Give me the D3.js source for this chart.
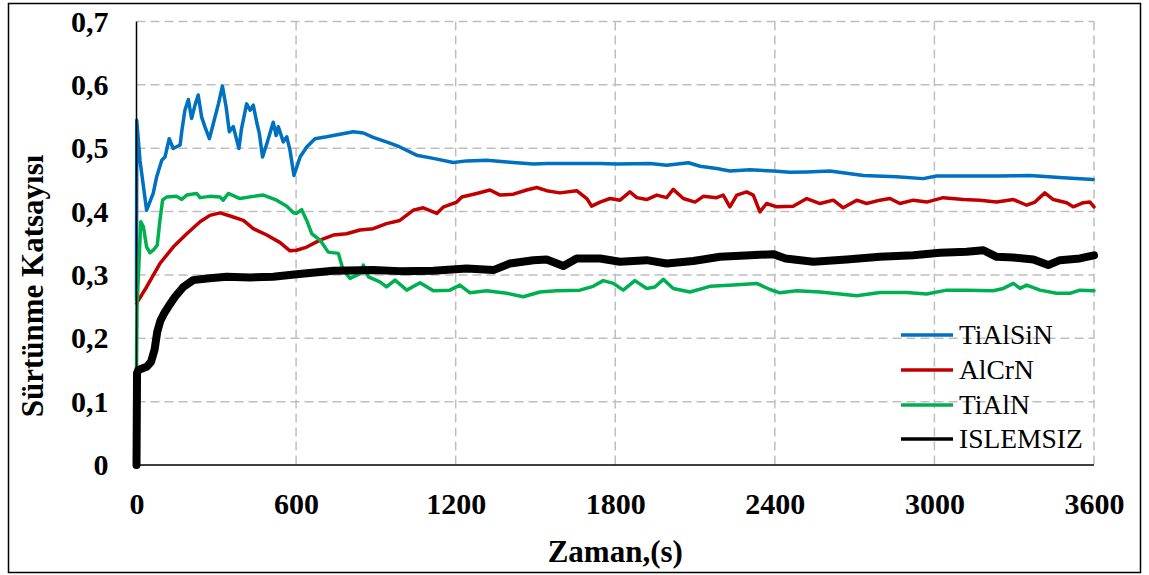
<!DOCTYPE html>
<html>
<head>
<meta charset="utf-8">
<script src="https://cdn.jsdelivr.net/npm/d3@7"></script>
<style>
  html, body { margin: 0; padding: 0; background: #fff; }
  svg { display: block; }
  svg text { font-family: "Liberation Serif", "Times New Roman", Times, serif; }
</style>
</head>
<body>
<svg id="chart" width="1149" height="575"></svg>
<script>
// Friction coefficient vs. time for coated and uncoated samples
const seriesNames = ["TiAlSiN", "AlCrN", "TiAlN", "ISLEMSIZ"];
const seriesColors = ["#0070c0", "#c00000", "#00b050", "#000000"];
const xTicks = [0, 600, 1200, 1800, 2400, 3000, 3600];
const yTicks = [0, 0.1, 0.2, 0.3, 0.4, 0.5, 0.6, 0.7];
const yTickLabels = ["0", "0,1", "0,2", "0,3", "0,4", "0,5", "0,6", "0,7"];

// [time (s), friction coefficient]
const tialsin = [
  [0,0.26],[1,0.544],[13,0.481],[38,0.402],[63,0.429],[76,0.455],[95,0.481],[107,0.486],
  [123,0.515],[138,0.4995],[164,0.505],[170,0.526],[182,0.56],[195,0.577],[207,0.547],
  [220,0.568],[232,0.584],[245,0.549],[257,0.534],[274,0.515],[289,0.539],[308,0.57],
  [323,0.598],[337,0.565],[349,0.526],[364,0.534],[385,0.4995],[395,0.531],[414,0.57],
  [427,0.56],[439,0.568],[452,0.541],[462,0.523],[474,0.486],[490,0.507],[514,0.541],
  [525,0.52],[533,0.534],[552,0.51],[565,0.518],[577,0.497],[592,0.457],[615,0.486],
  [640,0.502],[671,0.515],[715,0.518],[765,0.522],[815,0.526],[853,0.524],[890,0.517],
  [953,0.508],[990,0.502],[1053,0.489],[1116,0.484],[1191,0.4775],[1241,0.48],
  [1317,0.481],[1404,0.478],[1492,0.475],[1542,0.476],[1642,0.476],[1743,0.476],
  [1805,0.475],[1931,0.476],[1993,0.473],[2075,0.477],[2119,0.4716],[2181,0.468],
  [2231,0.464],[2307,0.466],[2394,0.464],[2457,0.462],[2520,0.4626],[2607,0.464],
  [2733,0.457],[2858,0.455],[2958,0.452],[3008,0.456],[3121,0.456],[3234,0.456],
  [3359,0.457],[3484,0.4535],[3597,0.4506]
];
const alcrn = [
  [0,0.255],[38,0.281],[88,0.318],[138,0.344],[189,0.365],[239,0.384],[276,0.394],
  [314,0.398],[352,0.393],[402,0.386],[439,0.373],[490,0.363],[540,0.351],[577,0.338],
  [602,0.339],[640,0.344],[690,0.355],[740,0.363],[790,0.365],[840,0.371],[890,0.373],
  [940,0.381],[990,0.386],[1040,0.402],[1078,0.406],[1129,0.397],[1153,0.407],
  [1204,0.415],[1223,0.423],[1279,0.4286],[1329,0.434],[1367,0.426],[1417,0.4275],
  [1467,0.434],[1505,0.438],[1542,0.433],[1592,0.4295],[1655,0.433],[1693,0.4206],
  [1711,0.4085],[1743,0.415],[1780,0.4206],[1818,0.418],[1855,0.431],[1881,0.422],
  [1918,0.419],[1956,0.426],[1993,0.422],[2018,0.435],[2056,0.4206],[2100,0.415],
  [2131,0.424],[2181,0.422],[2206,0.426],[2231,0.4075],[2257,0.426],[2294,0.431],
  [2319,0.426],[2344,0.3996],[2369,0.4127],[2407,0.4075],[2469,0.4085],[2520,0.4206],
  [2570,0.4127],[2620,0.418],[2657,0.406],[2708,0.418],[2745,0.4127],[2795,0.418],
  [2833,0.4206],[2870,0.4127],[2921,0.418],[2971,0.415],[3033,0.422],[3109,0.419],
  [3171,0.418],[3234,0.415],[3297,0.419],[3347,0.41],[3378,0.415],[3415,0.4295],
  [3447,0.419],[3497,0.414],[3522,0.4075],[3560,0.414],[3585,0.415],[3600,0.4075]
];
const tialn = [
  [0,0.15],[2,0.25],[16,0.384],[26,0.376],[38,0.344],[51,0.335],[63,0.339],[78,0.347],
  [88,0.386],[98,0.418],[113,0.423],[151,0.424],[170,0.419],[189,0.426],[226,0.4286],
  [239,0.422],[276,0.424],[314,0.423],[326,0.418],[345,0.4286],[389,0.4206],[439,0.424],
  [477,0.426],[527,0.418],[565,0.4085],[590,0.398],[602,0.397],[621,0.403],[640,0.386],
  [659,0.365],[690,0.355],[721,0.336],[759,0.334],[777,0.3076],[803,0.2945],[840,0.302],
  [853,0.3155],[872,0.297],[915,0.289],[940,0.281],[972,0.2918],[1016,0.276],
  [1066,0.2876],[1116,0.275],[1178,0.276],[1216,0.284],[1254,0.2718],[1317,0.275],
  [1392,0.271],[1454,0.2655],[1517,0.273],[1580,0.275],[1667,0.276],[1717,0.282],
  [1755,0.291],[1793,0.2866],[1830,0.276],[1874,0.291],[1918,0.2787],[1949,0.281],
  [1981,0.293],[2018,0.2787],[2081,0.273],[2156,0.282],[2244,0.284],[2332,0.2866],
  [2382,0.277],[2419,0.2718],[2482,0.275],[2570,0.273],[2645,0.27],[2708,0.267],
  [2795,0.2724],[2896,0.2724],[2971,0.27],[3046,0.276],[3121,0.276],[3221,0.275],
  [3259,0.2787],[3297,0.2866],[3322,0.2787],[3347,0.284],[3397,0.276],[3459,0.271],
  [3509,0.271],[3547,0.276],[3600,0.275]
];
const islemsiz = [
  [0,0],[2,0.145],[7,0.15],[38,0.155],[55,0.163],[68,0.182],[78,0.21],[90,0.228],
  [105,0.24],[120,0.25],[145,0.2655],[176,0.281],[213,0.2918],[264,0.2945],[339,0.297],
  [427,0.296],[514,0.297],[602,0.301],[740,0.3065],[890,0.3076],[990,0.306],[1116,0.3065],
  [1241,0.31],[1342,0.3076],[1404,0.318],[1492,0.3233],[1542,0.3244],[1605,0.314],
  [1655,0.326],[1743,0.326],[1818,0.3207],[1918,0.3233],[1993,0.318],[2093,0.322],
  [2194,0.3286],[2307,0.331],[2394,0.3328],[2440,0.326],[2545,0.3207],[2670,0.3244],
  [2795,0.3286],[2921,0.331],[3021,0.335],[3121,0.3365],[3184,0.339],[3234,0.3286],
  [3297,0.3276],[3372,0.3244],[3428,0.3155],[3472,0.3233],[3547,0.326],[3600,0.331]
];
const seriesData = [tialsin, alcrn, tialn, islemsiz];
const seriesWidths = [3.5, 3.5, 3.5, 8];

const svg = d3.select("#chart");

// outer frame
svg.append("rect")
  .attr("x", 8.5).attr("y", 3.5).attr("width", 1132).attr("height", 569)
  .attr("fill", "none").attr("stroke", "#000").attr("stroke-width", 1.5);

const x = d3.scaleLinear().domain([0, 3600]).range([136.5, 1094]);
const y = d3.scaleLinear().domain([0, 0.7]).range([465, 21.5]);

// dashed grid
const grid = svg.append("g")
  .attr("stroke", "#bfbfbf").attr("stroke-width", 1.5).attr("stroke-dasharray", "9,5");
grid.selectAll("line.h").data(yTicks.slice(1)).join("line")
  .attr("class", "h")
  .attr("x1", x(0)).attr("x2", x(3600))
  .attr("y1", d => y(d)).attr("y2", d => y(d));
grid.selectAll("line.v").data(xTicks.slice(1)).join("line")
  .attr("class", "v")
  .attr("x1", d => x(d)).attr("x2", d => x(d))
  .attr("y1", y(0.7)).attr("y2", y(0));

// axes
const yAxis = d3.axisLeft(y).tickValues(yTicks)
  .tickFormat((d, i) => yTickLabels[i]).tickSize(0).tickPadding(28);
const gy = svg.append("g").attr("transform", `translate(${x(0)},0)`).call(yAxis);
gy.attr("font-family", null);
gy.select(".domain").remove();
gy.selectAll("text").attr("font-size", 30)
  .attr("font-weight", "bold").attr("fill", "#000");

const xAxis = d3.axisBottom(x).tickValues(xTicks).tickFormat(d3.format("d"))
  .tickSize(0).tickPadding(28);
const gx = svg.append("g").attr("transform", `translate(0,${y(0)})`).call(xAxis);
gx.attr("font-family", null);
gx.select(".domain").remove();
gx.selectAll("text").attr("font-size", 30)
  .attr("font-weight", "bold").attr("fill", "#000");

// series
const line = d3.line().x(d => x(d[0])).y(d => y(d[1]));
seriesData.forEach((data, i) => {
  svg.append("path").datum(data)
    .attr("d", line)
    .attr("fill", "none")
    .attr("stroke", seriesColors[i])
    .attr("stroke-width", seriesWidths[i])
    .attr("stroke-linejoin", "round")
    .attr("stroke-linecap", "round");
});

// axis lines
svg.append("line").attr("x1", x(0)).attr("x2", x(0)).attr("y1", y(0.7)).attr("y2", y(0))
  .attr("stroke", "#000").attr("stroke-width", 1.5);
svg.append("line").attr("x1", x(0)).attr("x2", x(3600)).attr("y1", y(0)).attr("y2", y(0))
  .attr("stroke", "#000").attr("stroke-width", 1.5);

// axis titles
svg.append("text")
  .attr("x", (x(0) + x(3600)) / 2).attr("y", 562)
  .attr("text-anchor", "middle")
  .attr("font-size", 31).attr("font-weight", "bold")
  .text("Zaman,(s)");
svg.append("text")
  .attr("transform", "translate(43,286) rotate(-90)")
  .attr("text-anchor", "middle")
  .attr("font-size", 31).attr("font-weight", "bold")
  .text("Sürtünme Katsayısı");

// legend
const legend = svg.append("g");
const legendY = [335, 370, 405, 439];
seriesNames.forEach((name, i) => {
  legend.append("line")
    .attr("x1", 901).attr("x2", 953).attr("y1", legendY[i]).attr("y2", legendY[i])
    .attr("stroke", seriesColors[i]).attr("stroke-width", 3.5);
  legend.append("text")
    .attr("x", 959).attr("y", legendY[i] + 9)
    .attr("font-size", 27.5)
    .text(name);
});
</script>
</body>
</html>
